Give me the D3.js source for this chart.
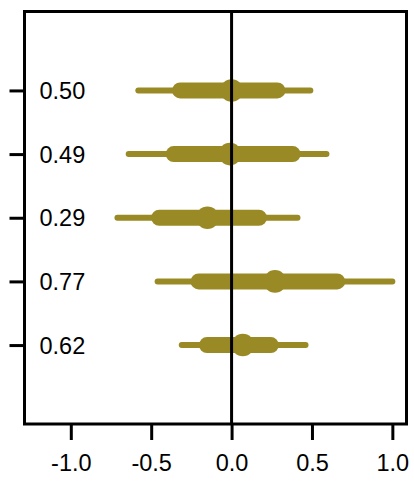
<!DOCTYPE html>
<html><head><meta charset="utf-8">
<script src="https://cdn.jsdelivr.net/npm/d3@7"></script>
<style>body{margin:0;background:#fff}svg{display:block}text{font-family:"Liberation Sans",Arial,sans-serif}</style>
</head><body><svg id="c" width="414" height="483"></svg>
<script>
const labels = ["0.50","0.49","0.29","0.77","0.62"];
const points = [0.0, -0.01, -0.15, 0.27, 0.07];
const thinLo = [-0.58, -0.64, -0.71, -0.46, -0.31];
const thinHi = [0.49, 0.59, 0.41, 1.0, 0.46];
const thickLo = [-0.32, -0.36, -0.45, -0.205, -0.153];
const thickHi = [0.285, 0.38, 0.17, 0.657, 0.244];
const xTicks = [-1.0, -0.5, 0.0, 0.5, 1.0];
const col = "#9a8a25";

const svg = d3.select("#c");
const L = 24.5, R = 406.5, T = 11.5, B = 424;
const x = d3.scaleLinear().domain([-1.2 - 0.04*2.2, 1.0 + 0.04*2.2]).range([L, R]);
const y = d3.scaleLinear().domain([-0.24, 6.24]).range([T, B]);
const rows = labels.map((l,i)=>({l, i:i+1, p:points[i], a:thinLo[i], b:thinHi[i], c:thickLo[i], d:thickHi[i]}));

const g = svg.append("g");
g.selectAll(".thin").data(rows).join("line")
  .attr("x1", d=>x(d.a)).attr("x2", d=>x(d.b)).attr("y1", d=>y(d.i)).attr("y2", d=>y(d.i))
  .attr("stroke", col).attr("stroke-width", 6).attr("stroke-linecap","round");
g.selectAll(".thick").data(rows).join("line")
  .attr("x1", d=>x(d.c)).attr("x2", d=>x(d.d)).attr("y1", d=>y(d.i)).attr("y2", d=>y(d.i))
  .attr("stroke", col).attr("stroke-width", 16).attr("stroke-linecap","round");
g.selectAll("circle").data(rows).join("circle")
  .attr("cx", d=>x(d.p)).attr("cy", d=>y(d.i)).attr("r", 11.3).attr("fill", col);

// zero line
svg.append("line").attr("x1", x(0)).attr("x2", x(0)).attr("y1", T).attr("y2", B)
  .attr("stroke","#000").attr("stroke-width",3);

// labels inside
svg.selectAll(".lab").data(rows).join("text")
  .attr("x", 39.5).attr("y", d=>y(d.i)).attr("dy","0.36em")
  .attr("font-size", 23.5).attr("fill","#000").text(d=>d.l);

// box
svg.append("rect").attr("x", L).attr("y", T).attr("width", R-L).attr("height", B-T)
  .attr("fill","none").attr("stroke","#000").attr("stroke-width",3);

// x axis
const xa = d3.axisBottom(x).tickValues(xTicks).tickFormat(d3.format(".1f")).tickSize(16).tickPadding(14);
const ax = svg.append("g").attr("transform",`translate(0,${B})`).call(xa);
ax.select(".domain").remove();
ax.selectAll(".tick line").attr("stroke","#000").attr("stroke-width",3);
ax.selectAll(".tick text").attr("font-size",23.5).attr("fill","#000")
  .style("font-family",'"Liberation Sans",Arial,sans-serif').text(d=>d3.format(".1f")(d).replace("−","-"));

// y ticks
const ya = d3.axisLeft(y).tickValues(rows.map(r=>r.i)).tickSize(15).tickFormat("");
const ay = svg.append("g").attr("transform",`translate(${L},0)`).call(ya);
ay.select(".domain").remove();
ay.selectAll(".tick line").attr("stroke","#000").attr("stroke-width",3);
</script></body></html>
